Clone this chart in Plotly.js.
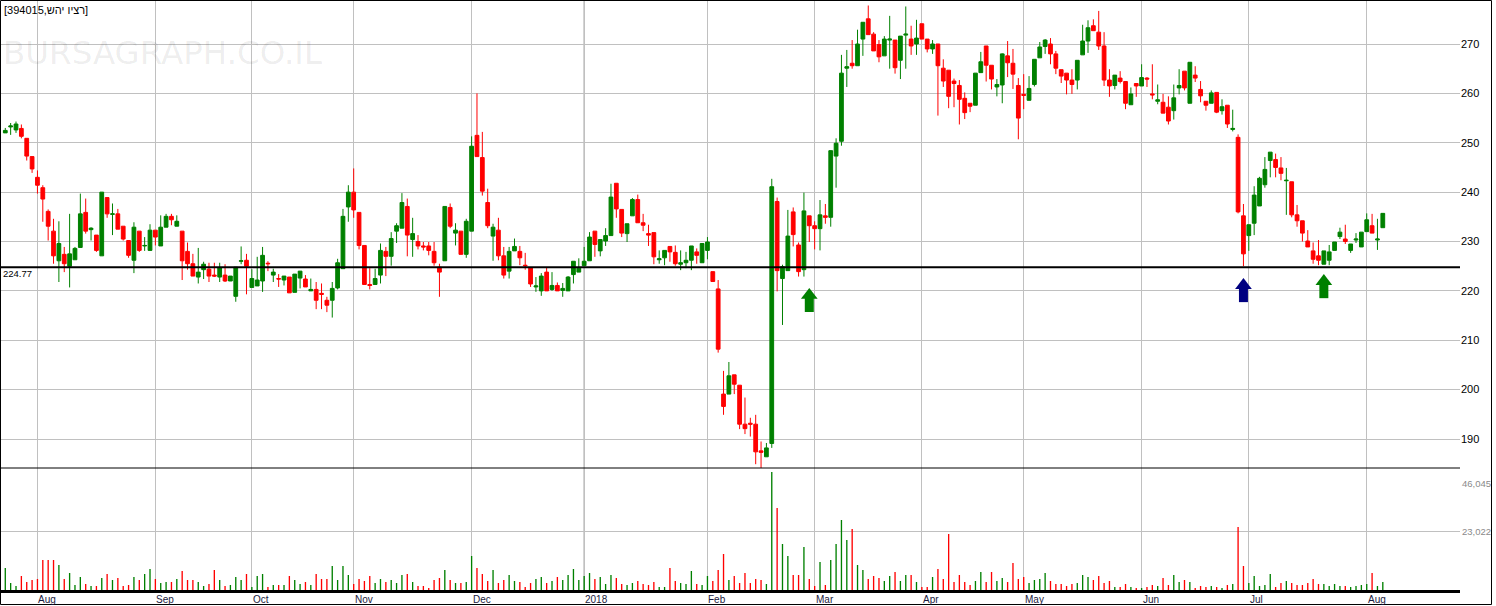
<!DOCTYPE html>
<html><head><meta charset="utf-8">
<script src="https://cdn.plot.ly/plotly-3.0.1.min.js"></script>
<style>html,body{margin:0;padding:0;background:#fff;}#chart{width:1496px;height:606px;}</style>
</head><body><div id="chart"></div>
<script>
// ---- data ----
const openP = [252.0,253.2,252.6,252.9,250.9,247.2,243.0,240.9,236.1,232.1,226.1,227.4,225.0,226.3,228.8,235.9,232.4,231.3,227.1,238.9,
235.5,235.6,233.1,230.2,226.2,232.1,229.1,228.2,232.3,229.1,232.9,235.1,233.1,232.1,228.0,225.5,222.8,224.3,224.4,223.2,
222.8,223.2,222.0,218.9,226.0,226.2,220.7,221.0,222.0,225.6,223.2,222.5,222.2,222.8,219.7,222.6,222.4,220.0,220.3,219.5,
218.1,218.1,220.6,224.5,237.0,240.0,235.9,229.2,221.3,221.3,223.2,228.0,227.0,232.1,232.7,237.1,230.4,230.0,229.1,229.1,
228.0,224.8,226.1,236.9,231.7,232.1,227.4,232.1,251.5,247.0,237.9,231.1,232.3,227.1,224.0,228.1,228.0,225.2,224.7,220.8,
220.0,223.8,220.3,221.1,220.1,220.0,223.3,223.8,225.1,226.1,232.1,228.1,230.1,231.2,241.8,236.5,231.6,235.2,238.5,233.8,
231.6,231.8,226.3,226.7,229.0,227.8,225.4,225.7,226.2,227.9,225.7,228.2,223.9,220.4,199.1,199.1,203.0,200.9,193.0,193.2,
193.0,187.6,186.4,189.1,238.1,222.5,224.1,236.0,229.3,224.3,235.2,233.2,232.6,235.2,234.9,247.3,250.3,265.1,266.1,265.6,
271.0,275.1,272.0,269.9,267.6,270.8,270.8,266.7,271.8,271.0,270.0,274.1,271.0,269.0,270.0,265.1,264.7,262.5,261.6,259.0,
258.0,257.6,264.2,269.6,265.7,261.3,261.7,267.6,266.1,261.6,259.8,258.6,261.8,267.2,269.5,270.0,268.0,264.8,264.1,262.7,
262.7,267.8,270.6,273.7,272.4,269.6,262.7,261.6,263.1,262.4,257.7,262.0,261.5,263.1,259.9,258.4,258.2,257.2,256.5,261.1,
264.5,258.0,263.7,260.8,258.4,258.0,260.2,256.5,257.6,252.7,251.1,235.2,231.2,233.7,237.2,241.5,246.4,246.6,244.9,242.3,
242.1,235.4,234.2,230.1,228.1,227.1,225.4,226.2,228.2,231.0,230.5,228.2,230.3,228.9,232.0,233.2,230.3,232.8];
const highP = [253.0,254.0,254.3,253.7,250.9,247.2,244.4,241.4,236.5,234.6,234.1,228.9,235.6,228.9,239.7,238.7,232.9,231.3,240.0,238.9,
237.7,236.6,233.1,230.2,233.9,232.1,230.9,233.5,232.3,235.3,235.6,235.6,235.3,232.1,229.8,227.5,228.7,225.9,225.7,225.7,
225.7,225.4,223.0,224.8,229.0,227.5,224.4,226.9,228.9,226.0,224.5,223.4,223.0,222.8,223.4,224.0,223.2,222.5,221.8,221.5,
218.8,221.8,226.5,236.6,241.4,244.8,235.9,229.2,224.6,224.5,229.6,228.9,231.9,233.7,239.8,238.7,234.8,231.3,229.9,229.9,
229.9,225.5,237.1,237.7,233.7,232.1,234.6,251.3,260.0,252.2,240.7,233.6,234.8,228.9,228.9,230.6,229.1,227.7,224.7,222.8,
223.6,224.7,223.8,221.7,221.6,223.0,226.0,226.6,228.9,231.9,232.1,230.4,232.7,241.7,241.8,236.5,233.6,238.8,239.5,235.6,
233.4,231.8,228.2,228.2,229.0,229.2,228.2,227.9,229.1,228.6,229.6,230.9,223.9,222.2,203.8,205.6,203.0,200.9,198.4,194.3,
194.9,189.5,189.2,242.7,238.9,225.3,236.4,236.9,229.8,239.9,235.2,234.1,238.4,237.6,248.5,250.9,267.8,268.8,270.8,272.9,
274.4,277.8,272.4,270.8,271.6,275.7,270.8,271.6,277.6,273.7,274.9,274.1,271.0,270.8,270.0,266.9,264.7,263.0,262.7,260.2,
258.0,264.1,268.4,269.6,265.7,262.9,268.1,270.6,269.0,263.1,263.9,263.5,266.9,270.4,271.0,271.2,268.6,264.8,264.1,264.9,
266.7,273.9,274.8,275.0,276.7,272.4,264.9,263.7,264.5,262.4,261.2,262.0,265.9,263.3,265.9,261.8,259.9,259.4,261.8,264.9,
264.5,266.3,265.5,262.5,258.4,260.6,260.2,258.8,257.6,256.7,251.7,237.6,233.4,241.2,243.1,247.1,248.1,247.8,247.1,244.9,
242.1,237.4,234.2,232.3,229.8,230.3,228.1,229.3,229.9,232.8,233.4,229.5,231.7,231.9,235.7,235.6,234.6,235.7];
const lowP = [252.0,251.6,252.0,250.9,246.4,243.9,239.7,234.0,230.2,225.5,221.8,223.8,220.7,226.3,228.8,231.6,230.2,227.9,227.1,234.8,
231.3,232.5,230.2,226.7,223.6,227.9,228.1,228.2,229.2,229.1,232.9,233.3,233.1,222.2,224.3,223.0,221.5,222.4,221.8,222.8,
221.8,221.8,222.0,217.8,225.4,219.3,220.7,221.0,219.8,224.0,221.8,220.8,221.1,219.6,219.7,220.5,220.8,220.0,216.3,216.3,
215.7,214.6,220.3,224.5,234.0,234.8,228.4,221.3,220.3,221.3,221.5,223.0,225.1,229.7,232.7,227.0,226.9,228.4,228.2,227.2,
225.1,218.8,226.1,232.7,229.2,227.4,226.7,232.1,247.2,239.3,232.7,226.1,226.2,222.5,222.5,228.1,225.2,224.3,220.8,219.8,
219.0,220.0,220.0,220.0,218.8,220.0,221.5,223.8,225.1,226.1,226.9,227.0,229.1,231.2,234.8,230.9,229.9,235.2,233.8,232.1,
229.1,225.4,225.5,225.2,225.9,225.1,224.2,224.6,224.2,225.5,225.7,226.4,221.9,207.5,194.9,199.1,199.1,192.0,191.0,190.5,
184.9,184.0,186.4,188.2,219.9,213.1,224.1,229.0,222.9,222.9,229.9,228.4,228.2,233.6,233.0,240.9,249.4,261.3,265.0,265.6,
267.6,271.9,268.6,266.3,267.6,265.0,264.0,262.9,265.0,267.8,267.8,271.0,268.3,268.0,255.5,261.3,257.0,257.2,253.7,254.8,
256.2,257.6,264.2,262.4,260.8,259.4,258.0,263.3,260.9,250.7,256.8,258.6,261.4,267.2,268.0,265.9,263.9,262.1,259.8,259.9,
260.8,267.8,268.2,272.7,268.8,261.5,259.3,260.8,262.0,256.8,257.7,259.3,261.5,261.3,258.8,257.8,256.0,253.7,254.7,259.8,
260.6,258.0,262.3,258.2,256.5,258.0,256.0,255.7,253.0,252.3,235.7,225.0,228.1,231.3,237.2,240.9,243.0,243.0,242.4,235.4,
234.9,233.0,230.0,228.9,225.5,225.2,225.4,225.2,228.2,230.5,229.5,227.7,229.7,228.9,232.0,231.7,228.3,232.8];
const closeP = [252.5,253.4,253.8,251.3,247.3,244.7,241.4,238.6,233.1,227.1,229.6,225.5,227.5,228.6,235.6,232.1,232.7,228.2,240.0,235.6,
235.6,232.5,230.5,227.2,232.9,228.2,229.2,232.3,230.9,232.9,235.1,234.4,234.1,226.1,225.5,223.0,223.8,225.4,223.0,223.0,
224.7,222.0,223.0,224.8,226.1,225.0,222.5,222.2,227.2,225.5,223.8,222.4,223.0,219.6,223.4,224.0,220.8,220.3,218.1,219.3,
217.1,220.5,225.7,235.1,240.0,236.4,229.2,221.3,221.1,222.5,228.2,227.0,230.6,233.2,237.9,231.3,231.6,229.1,228.9,228.2,
225.7,223.8,237.1,233.1,232.3,227.4,234.1,249.3,247.2,240.2,233.2,232.9,227.1,223.2,228.0,229.0,226.7,225.1,221.4,221.0,
223.0,220.0,221.1,220.0,220.5,222.8,226.0,224.6,226.0,230.9,229.4,230.4,231.2,239.0,236.6,231.7,233.6,238.5,233.8,233.3,
231.3,226.9,226.5,228.2,227.9,225.5,225.7,226.2,229.1,227.2,229.6,229.9,221.9,208.2,196.6,202.8,201.1,193.0,192.1,193.0,
187.4,187.3,188.2,241.1,224.1,224.9,231.1,231.4,223.9,236.2,233.2,232.6,235.4,234.9,248.4,249.9,264.1,265.4,265.6,270.0,
274.4,271.9,268.6,267.4,271.0,271.0,265.2,271.6,272.0,269.6,271.2,271.0,269.0,270.0,265.6,262.5,259.4,262.0,258.8,256.1,
257.4,264.1,266.4,265.7,262.9,261.8,268.0,266.2,263.9,255.0,259.6,261.0,266.9,269.4,270.8,268.0,265.1,263.5,262.7,261.8,
266.7,270.6,273.3,272.7,269.6,262.7,261.5,263.7,262.4,258.0,259.9,261.5,263.2,262.9,259.7,258.7,256.0,254.4,259.1,261.6,
261.1,266.3,263.1,259.5,257.6,260.1,256.2,257.3,253.8,252.9,236.0,227.5,233.4,239.4,242.8,244.6,248.1,245.0,243.8,242.4,
235.4,234.2,231.7,228.9,226.4,226.2,228.1,227.9,229.9,231.9,230.0,229.5,230.5,231.9,234.4,231.7,230.5,235.7];
const volume = [8590,2730,1560,5460,3120,3900,4290,11700,11700,11700,9760,4290,6630,1950,5070,2340,1560,1560,4680,6240,
3900,4680,1560,1950,5070,3900,6240,8200,4290,2730,3120,3120,4290,7420,3900,3900,3120,1560,2340,7800,
3900,1560,1950,5070,3900,6240,1170,5460,6240,1170,1950,1950,1950,5460,3900,2340,3120,1950,6240,4290,
4290,9370,3900,9370,5850,2340,4290,3510,5460,2730,4290,3120,3900,2730,5850,6240,3120,1560,1560,780,
3900,4680,7800,3900,2730,2730,3120,13270,8590,6240,3510,7800,2730,3900,5850,3510,3120,1170,2730,4290,
5070,2730,3510,5070,3900,5850,8200,3900,5460,6630,4290,5070,2340,5850,4680,2340,1950,2730,3510,2340,
1950,3120,1170,1170,8590,3510,2730,2340,7420,2340,1950,5460,3510,7800,14050,3900,5460,2730,6630,2730,
4290,3900,2340,46045,32000,17950,13270,5850,5850,16780,4290,1560,10930,1950,11710,17950,27320,19510,23800,9760,
7800,4290,5460,4680,3510,5460,7020,3510,5850,5850,3120,1170,1170,5070,8200,4290,21860,3120,5850,3120,
1950,3510,7020,3120,7020,3510,4680,3120,10540,4290,5070,2730,3900,4290,6630,3510,2340,2340,1560,2340,
2730,5850,5070,3900,5460,2730,3510,1170,1170,2340,1170,780,780,1170,1950,1560,4680,1950,5850,3120,
3900,3120,780,1560,1170,1560,1170,780,1950,2340,24590,9370,2730,5460,1560,1950,6240,1170,2730,3510,
2730,1950,1950,2730,4290,2340,2340,1560,2340,1560,1560,1170,1560,1950,2340,6630,1560,3120];
const monthLabels = ['Aug','Sep','Oct','Nov','Dec','2018','Feb','Mar','Apr','May','Jun','Jul','Aug'];
const monthStart  = [6,28,46,65,87,108,131,151,171,190,212,232,254];
const yearStartLabel = '2018';
const priceTicks = [190,200,210,220,230,240,250,260,270];
const volumeTicks = [23022,46045];
const volumeTickText = ['23,022','46,045'];
const supportLevel = 224.77;
const arrowIdx = [150,231,246];
const arrowTip = [220.6,222.6,223.4];
const arrowColor = ['#008000','#000080','#008000'];
const chartTitle = '[394015,רציו יהש]';
const watermark = 'BURSAGRAPH.CO.IL';

// ---- layout geometry ----
const W=1496,H=606,ML=1,MR=36,MT=1,MB=16;
const plotW=W-ML-MR, plotH=H-MT-MB;
const split=(590-468)/plotH;
const spacing=5.36;
const xmin=-0.8, xmax=xmin+plotW/spacing;
const priceRange=[184.13,278.71];
const volRange=[0,47604];
const GREEN='#008000', RED='#ff0000';
const FONT='Liberation Sans, Arial, sans-serif';

const idx = closeP.map((_,i)=>i);
const volColors = closeP.map((c,i)=> c>=openP[i] ? GREEN : RED);

const pxPerUnit = plotH*(1-split)/(priceRange[1]-priceRange[0]);
const headSize=14.5, stemLen=11;
const headY = arrowTip.map(p=> p - (headSize/2)/pxPerUnit);
const stemY = arrowTip.map(p=> p - (headSize*0.75 + stemLen/2)/pxPerUnit);

const traces = [
 {type:'bar', x:idx, y:volume, xaxis:'x', yaxis:'y', width:0.25,
  marker:{color:volColors, line:{width:0}}, hoverinfo:'skip'},
 {type:'candlestick', x:idx, open:openP, high:highP, low:lowP, close:closeP, xaxis:'x', yaxis:'y2',
  increasing:{line:{color:GREEN,width:1}, fillcolor:GREEN},
  decreasing:{line:{color:RED,width:1}, fillcolor:RED}, whiskerwidth:0, hoverinfo:'skip'},
 {type:'scatter', mode:'markers', x:arrowIdx, y:stemY, xaxis:'x', yaxis:'y2', hoverinfo:'skip',
  marker:{symbol:'line-ns', size:stemLen, color:arrowColor, line:{color:arrowColor, width:9}}},
 {type:'scatter', mode:'markers', x:arrowIdx, y:headY, xaxis:'x', yaxis:'y2', hoverinfo:'skip',
  marker:{symbol:'triangle-up', size:headSize, color:arrowColor, line:{width:0}}}
];

const annotations = [
 {xref:'paper', yref:'paper', x:(3-ML)/plotW, y:(590-10)/plotH, xanchor:'left', yanchor:'middle',
  text:chartTitle, showarrow:false, font:{family:FONT, size:11, color:'#000'}, borderpad:0},
 {xref:'paper', yref:'paper', x:(2-ML)/plotW, y:(590-53)/plotH, xanchor:'left', yanchor:'middle',
  text:watermark, showarrow:false, font:{family:'DejaVu Sans', size:32.5, color:'rgba(0,0,0,0.08)'}, borderpad:0},
 {xref:'paper', yref:'y2', x:(2-ML)/plotW, y:supportLevel, yshift:-6, xanchor:'left', yanchor:'middle',
  text:supportLevel.toFixed(2), showarrow:false, font:{family:FONT, size:9.5, color:'#000'}, borderpad:0}
];
monthLabels.forEach((m,k)=>annotations.push({xref:'x', yref:'paper', x:monthStart[k], y:0, yshift:-9,
  xanchor:'left', yanchor:'middle', text:m, showarrow:false, borderpad:0, font:{family:FONT,size:10,color:'#1a1a40'}}));
volumeTicks.forEach((v,k)=>annotations.push({xref:'paper', yref:'y', x:1+1/plotW, y:v, yshift:(k===1?-11:0),
  xanchor:'left', yanchor:'middle', text:volumeTickText[k], showarrow:false, borderpad:0, font:{family:FONT,size:9.5,color:'#8a8a8a'}}));

const px2paperX = p => (p-ML)/plotW;
const py2paperY = p => (590-p)/plotH;
const shapes = [
 {type:'line', xref:'x', yref:'paper', x0:monthStart[monthLabels.indexOf(yearStartLabel)], x1:monthStart[monthLabels.indexOf(yearStartLabel)],
  y0:0, y1:1, line:{color:'#808080', width:1}, layer:'between'},
 {type:'line', xref:'paper', yref:'y2', x0:0, x1:1, y0:supportLevel, y1:supportLevel, line:{color:'#000', width:2}, layer:'above'},
 {type:'line', xref:'paper', yref:'paper', x0:0, x1:1, y0:split, y1:split, line:{color:'#000', width:1}, layer:'above'},
 {type:'rect', xref:'paper', yref:'paper', x0:px2paperX(0.5), x1:px2paperX(1491.5), y0:py2paperY(604.5), y1:py2paperY(0.5),
  line:{color:'#000', width:1}, fillcolor:'rgba(0,0,0,0)', layer:'above'}
];

const layout = {
 width:W, height:H, margin:{l:ML,r:MR,t:MT,b:MB,pad:0},
 paper_bgcolor:'#fff', plot_bgcolor:'#fff', showlegend:false, hovermode:false,
 font:{family:FONT, size:11, color:'#000'},
 boxgap:0.3, boxgroupgap:0,
 xaxis:{anchor:'y', range:[xmin,xmax], tickvals:monthStart, showticklabels:false, ticks:'',
  showgrid:true, gridcolor:'#c0c0c0', gridwidth:1, zeroline:false, showline:true, linecolor:'#000', linewidth:3,
  rangeslider:{visible:false}, fixedrange:true},
 yaxis:{domain:[0,split], range:volRange, tickvals:[volumeTicks[0]], showticklabels:false, ticks:'',
  showgrid:true, gridcolor:'#c0c0c0', zeroline:false, showline:false, fixedrange:true},
 yaxis2:{domain:[split,1], range:priceRange, side:'right', anchor:'x', tickvals:priceTicks, ticks:'',
  showgrid:true, gridcolor:'#c0c0c0', zeroline:false, showline:false, fixedrange:true,
  tickfont:{family:FONT, size:11, color:'#000'}},
 annotations:annotations, shapes:shapes
};

Plotly.newPlot('chart', traces, layout, {staticPlot:true, displayModeBar:false});
</script></body></html>
